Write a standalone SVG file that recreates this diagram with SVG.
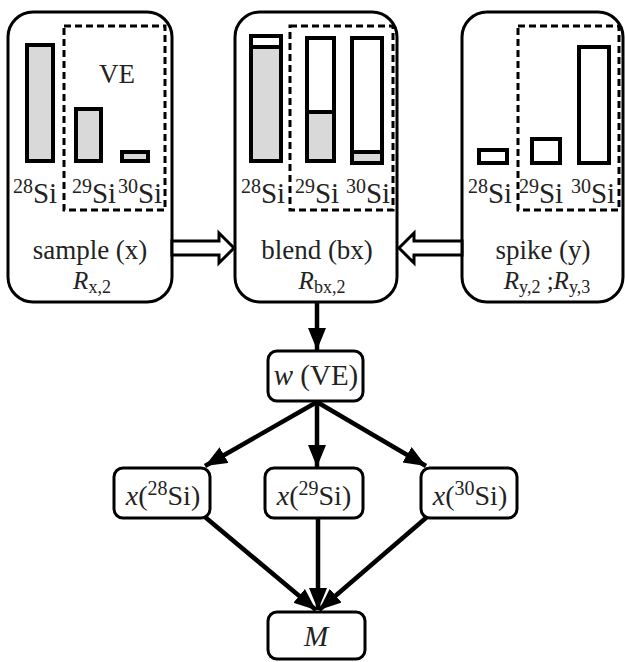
<svg xmlns="http://www.w3.org/2000/svg" width="625" height="662" viewBox="0 0 625 662" font-family="'Liberation Serif', 'Times New Roman', serif">
<defs>
<style>
.box{fill:#fff;stroke:#000;stroke-width:3}
.dash{fill:none;stroke:#000;stroke-width:3;stroke-dasharray:7 4}
.bar{fill:none;stroke:#000;stroke-width:4}
.gray{fill:#d9d9d9}
text{font-family:'Liberation Serif','Times New Roman',serif}
.t{fill:#222;font-size:29px;text-anchor:middle}
.lb{font-size:27px}
.r{font-size:25px}
.it{font-style:italic}
.sm{font-size:20px}
.sb{font-size:18px}
.hol{fill:#fff;stroke:#000;stroke-width:3;stroke-linejoin:miter}
.con{stroke:#000;stroke-width:4.5;fill:none}
</style>
<marker id="ah" markerUnits="userSpaceOnUse" markerWidth="24" markerHeight="20" refX="22" refY="9" orient="auto">
<path d="M0,0 L22,9 L0,18 z" fill="#000"/>
</marker>
</defs>
<rect width="625" height="662" fill="#fff"/>

<g id="sample">
<rect class="box" x="8" y="12" width="164" height="290" rx="25"/>
<rect class="dash" x="64" y="26" width="101" height="184"/>
<rect class="gray" x="27" y="45" width="26" height="116"/>
<rect class="bar" x="27" y="45" width="26" height="116"/>
<rect class="gray" x="76" y="109" width="25" height="52"/>
<rect class="bar" x="76" y="109" width="25" height="52"/>
<rect class="gray" x="122" y="152" width="26" height="9"/>
<rect class="bar" x="122" y="152" width="26" height="9"/>
<text class="t" x="117" y="83" style="font-size:27px">VE</text>
<text class="t" x="35" y="203"><tspan class="sm" dy="-10">28</tspan><tspan dy="10">Si</tspan></text>
<text class="t" x="94" y="203"><tspan class="sm" dy="-10">29</tspan><tspan dy="10">Si</tspan></text>
<text class="t" x="140" y="203"><tspan class="sm" dy="-10">30</tspan><tspan dy="10">Si</tspan></text>
<text class="t lb" x="90" y="259">sample (x)</text>
<text class="t r" x="92" y="289"><tspan class="it">R</tspan><tspan class="sb" dy="4">x,2</tspan></text>
</g>

<g id="blend">
<rect class="box" x="235" y="12" width="162" height="290" rx="25"/>
<rect class="dash" x="290" y="26" width="103" height="184"/>
<rect class="gray" x="251" y="47" width="30" height="114"/>
<rect class="bar" x="251" y="36" width="30" height="125"/>
<line x1="251" y1="47" x2="281" y2="47" stroke="#000" stroke-width="4"/>
<rect class="gray" x="307" y="112" width="27" height="49"/>
<rect class="bar" x="307" y="38" width="27" height="123"/>
<line x1="307" y1="112" x2="334" y2="112" stroke="#000" stroke-width="4"/>
<rect class="gray" x="352" y="152" width="30" height="11"/>
<rect class="bar" x="352" y="38" width="30" height="125"/>
<line x1="352" y1="152" x2="382" y2="152" stroke="#000" stroke-width="4"/>
<text class="t" x="263" y="203"><tspan class="sm" dy="-10">28</tspan><tspan dy="10">Si</tspan></text>
<text class="t" x="317" y="203"><tspan class="sm" dy="-10">29</tspan><tspan dy="10">Si</tspan></text>
<text class="t" x="368" y="203"><tspan class="sm" dy="-10">30</tspan><tspan dy="10">Si</tspan></text>
<text class="t lb" x="317" y="259">blend (bx)</text>
<text class="t r" x="322" y="289"><tspan class="it">R</tspan><tspan class="sb" dy="4">bx,2</tspan></text>
</g>

<g id="spike">
<rect class="box" x="462" y="12" width="161" height="290" rx="25"/>
<rect class="dash" x="518" y="26" width="101" height="184"/>
<rect class="bar" x="479" y="150" width="28" height="13"/>
<rect class="bar" x="532" y="139" width="28" height="24"/>
<rect class="bar" x="579" y="47" width="30" height="116"/>
<text class="t" x="490" y="203"><tspan class="sm" dy="-10">28</tspan><tspan dy="10">Si</tspan></text>
<text class="t" x="541" y="203"><tspan class="sm" dy="-10">29</tspan><tspan dy="10">Si</tspan></text>
<text class="t" x="593" y="203"><tspan class="sm" dy="-10">30</tspan><tspan dy="10">Si</tspan></text>
<text class="t lb" x="543" y="259">spike (y)</text>
<text class="t r" x="547" y="289"><tspan class="it">R</tspan><tspan class="sb" dy="4">y,2</tspan><tspan dy="-4"> ;</tspan><tspan class="it">R</tspan><tspan class="sb" dy="4">y,3</tspan></text>
</g>

<g id="wVE">
<rect class="box" x="268" y="351" width="95" height="50" rx="9"/>
<text class="t" x="316" y="385"><tspan class="it">w</tspan> (VE)</text>
</g>

<g id="x28">
<rect class="box" x="114" y="468" width="96" height="50" rx="9"/>
<text class="t" x="163" y="505" style="font-size:28px"><tspan class="it">x</tspan>(<tspan class="sm" dy="-10">28</tspan><tspan dy="10">Si)</tspan></text>
</g>
<g id="x29">
<rect class="box" x="265" y="468" width="98" height="50" rx="9"/>
<text class="t" x="314" y="505" style="font-size:28px"><tspan class="it">x</tspan>(<tspan class="sm" dy="-10">29</tspan><tspan dy="10">Si)</tspan></text>
</g>
<g id="x30">
<rect class="box" x="421" y="468" width="96" height="50" rx="9"/>
<text class="t" x="470" y="505" style="font-size:28px"><tspan class="it">x</tspan>(<tspan class="sm" dy="-10">30</tspan><tspan dy="10">Si)</tspan></text>
</g>

<g id="M">
<rect class="box" x="268" y="612" width="97" height="47" rx="9"/>
<text class="t it" x="316" y="646">M</text>
</g>

<g id="connectors">
<path class="hol" d="M172,241 L219,241 L219,233 L234,248 L219,263 L219,255 L172,255 Z"/>
<path class="hol" d="M462,241 L414,241 L414,233 L399,248 L414,263 L414,255 L462,255 Z"/>
<line class="con" x1="317" y1="302" x2="317" y2="350" marker-end="url(#ah)"/>
<line class="con" x1="317" y1="402" x2="205" y2="466" marker-end="url(#ah)"/>
<line class="con" x1="317" y1="402" x2="317" y2="467" marker-end="url(#ah)"/>
<line class="con" x1="317" y1="402" x2="426" y2="466" marker-end="url(#ah)"/>
<line class="con" x1="205" y1="517" x2="316" y2="610" marker-end="url(#ah)"/>
<line class="con" x1="318" y1="519" x2="318" y2="610" marker-end="url(#ah)"/>
<line class="con" x1="427" y1="517" x2="319" y2="610" marker-end="url(#ah)"/>
</g>
</svg>
